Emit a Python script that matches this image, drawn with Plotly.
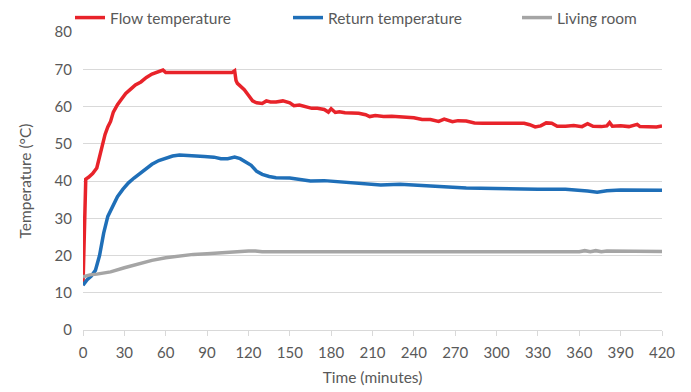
import plotly.graph_objects as go

# Flow temperature (red)
flow_t = [0, 1, 2, 4, 7, 10, 12, 14, 16, 18, 20, 22, 25, 28, 31, 35, 38, 42, 46, 50, 53, 56, 58, 60,
          70, 80, 90, 100, 108, 110, 111, 112, 114, 117, 120, 123, 126, 130, 133, 136, 140, 145, 150,
          153, 157, 162, 166, 170, 175, 178, 180, 183, 186, 190, 195, 200, 205, 208, 212, 218, 224, 230,
          235, 240, 246, 252, 258, 262, 268, 272, 278, 284, 290, 296, 302, 308, 314, 320, 324, 328, 332,
          336, 340, 344, 350, 356, 362, 366, 370, 376, 380, 382, 384, 390, 396, 400, 402, 404, 410, 416, 420]
flow_v = [12, 30, 40.5, 41, 42, 43.5, 46.5, 50, 52.5, 54.5, 56, 58.5, 60.5, 62, 63.5, 64.8, 65.8, 66.6, 67.8, 68.7, 69.2, 69.7, 69.8, 69.1,
          69.1, 69.1, 69.1, 69.1, 69.1, 69.6, 67, 66.2, 65.5, 64.5, 63, 61.5, 61, 60.8, 61.5, 61.2, 61.2, 61.5, 61.0,
          60.2, 60.4, 59.8, 59.5, 59.5, 59.2, 58.5, 59.4, 58.4, 58.6, 58.3, 58.3, 58.2, 57.8, 57.3, 57.6, 57.3, 57.4, 57.2,
          57.1, 57.0, 56.5, 56.5, 56.0, 56.6, 55.9, 56.2, 56.1, 55.6, 55.5, 55.5, 55.5, 55.4, 55.5, 55.5, 55.1, 54.5, 54.8,
          55.6, 55.5, 54.7, 54.7, 54.9, 54.6, 55.4, 54.7, 54.6, 54.8, 55.7, 54.7, 54.8, 54.6, 54.9, 55.2, 54.6, 54.6, 54.5, 54.8]

# Return temperature (blue)
ret_t = [0, 3, 6, 9, 12, 15, 18, 21, 25, 29, 33, 37, 41, 45, 50, 55, 60, 65, 70, 80, 88, 95, 100, 105,
         110, 114, 118, 122, 126, 130, 135, 140, 150, 158, 165, 175, 187, 200, 216, 230, 242, 255, 265,
         278, 290, 310, 330, 350, 360, 366, 373, 380, 390, 400, 410, 420]
ret_v = [12, 13.5, 14.5, 16, 20, 26, 30.5, 33, 35.8, 37.8, 39.5, 40.8, 42, 43.3, 44.5, 45.5, 46.2, 46.7, 47, 46.9, 46.6, 46.4, 46, 46,
         46.4, 46.0, 45.2, 44.2, 42.6, 41.8, 41.2, 40.9, 40.8, 40.5, 40.0, 40.1, 39.8, 39.5, 38.9, 39.1, 38.9, 38.8, 38.4,
         38.1, 38.0, 37.8, 37.8, 37.8, 37.6, 37.3, 37.0, 37.4, 37.6, 37.6, 37.5, 37.5]

# Living room (gray)
room_t = [0, 5, 10, 15, 20, 30, 40, 50, 60, 70, 80, 90, 100, 110, 120, 125, 130, 150, 200, 250, 300, 350,
          360, 364, 368, 372, 376, 380, 420]
room_v = [14.3, 14.8, 15.0, 15.2, 15.6, 16.7, 17.8, 18.7, 19.4, 19.9, 20.3, 20.5, 20.8, 21.0, 21.2, 21.2, 21.0, 21.0, 21.0, 21.0, 21.0, 21.0,
          21.0, 21.3, 21.0, 21.3, 21.0, 21.2, 21.1]

x_ticks = list(range(0, 421, 30))
y_ticks = list(range(0, 81, 10))

font_fam = "Lato, 'Open Sans', sans-serif"
txt = "#595959"

fig = go.Figure()
fig.add_trace(go.Scatter(x=flow_t, y=flow_v, mode="lines", name="Flow temperature",
                         line=dict(color="#E8232A", width=3.5), legend="legend"))
fig.add_trace(go.Scatter(x=ret_t, y=ret_v, mode="lines", name="Return temperature",
                         line=dict(color="#1F6FB8", width=3.5), legend="legend2"))
fig.add_trace(go.Scatter(x=room_t, y=room_v, mode="lines", name="Living room",
                         line=dict(color="#A5A5A5", width=3.5), legend="legend3"))

W, H = 691, 392

def leg(xpx):
    return dict(x=xpx / W, xref="container", xanchor="left",
                y=1 - 10 / H, yref="container", yanchor="middle",
                orientation="h", font=dict(size=15.5, color=txt),
                bgcolor="rgba(0,0,0,0)", itemwidth=30, borderwidth=0)

fig.update_layout(
    width=W, height=H,
    margin=dict(l=75, r=37, t=24, b=70, autoexpand=False),
    paper_bgcolor="white", plot_bgcolor="white",
    font=dict(family=font_fam, color=txt, size=15),
    showlegend=True,
    legend=leg(62), legend2=leg(280), legend3=leg(509),
)
fig.update_xaxes(range=[0, 420], tickvals=x_ticks, ticktext=[str(v) for v in x_ticks],
                 showgrid=False, showline=True, linecolor="#D9D9D9", linewidth=1,
                 ticks="outside", ticklen=5, tickcolor="#D9D9D9", tickangle=0,
                 tickfont=dict(size=15, color=txt), zeroline=False, ticklabelstandoff=4,
                 title=dict(text="Time (minutes)", font=dict(size=15.5, color=txt), standoff=12))
fig.update_yaxes(range=[0, 80], tickvals=y_ticks, ticktext=[str(v) for v in y_ticks],
                 showgrid=True, gridcolor="#D9D9D9", gridwidth=1, zeroline=False,
                 showline=False, tickfont=dict(size=15, color=txt), ticklabelstandoff=10,
                 title=dict(text="Temperature (°C)", font=dict(size=15.5, color=txt), standoff=19))

fig.write_html("out.html")
